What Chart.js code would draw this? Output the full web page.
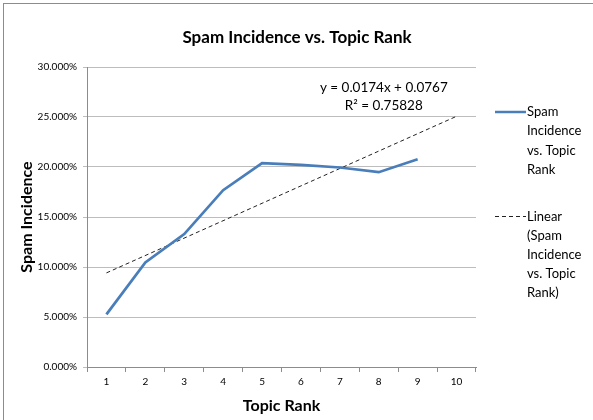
<!DOCTYPE html>
<html>
<head>
<meta charset="utf-8">
<script src="https://cdn.jsdelivr.net/npm/chart.js@4.4.1/dist/chart.umd.min.js"></script>
<style>
  html, body { margin: 0; padding: 0; background: #fff; }
  #wrap { position: relative; width: 593px; height: 420px; overflow: hidden; }
  #frame { position: absolute; left: 3px; top: 3px; width: 620px; height: 440px; border: 1px solid #8c8c8c; }
  canvas { position: absolute; left: 0; top: 0; }
</style>
</head>
<body>
<div id="wrap">
  <div id="frame"></div>
  <canvas id="chart" width="593" height="420"></canvas>
</div>
<script>
const topicRanks = ['1', '2', '3', '4', '5', '6', '7', '8', '9', '10'];
const spamIncidence = [0.0526, 0.1046, 0.1329, 0.1768, 0.2038, 0.2021, 0.1995, 0.1948, 0.2078];
// linear trendline, read at rank 1 and rank 10
const trendLine = [0.0941, null, null, null, null, null, null, null, null, 0.2507];
const yTickValues = [0, 0.05, 0.10, 0.15, 0.20, 0.25, 0.30];
const chartTitle = 'Spam Incidence vs. Topic Rank';
const trendEquation = ['y = 0.0174x + 0.0767', 'R² = 0.75828'];
const legendLines = [
  ['Spam', 'Incidence', 'vs. Topic', 'Rank'],
  ['Linear', '(Spam', 'Incidence', 'vs. Topic', 'Rank)']
];

const FONT = 'Lato, "Open Sans", sans-serif';
const BLUE = '#4a7ebb';

// title over the whole frame, equation label and side legend
const annotations = {
  id: 'annotations',
  afterDraw(chart) {
    const { ctx, chartArea, scales } = chart;
    ctx.save();
    ctx.fillStyle = '#000';
    ctx.textBaseline = 'middle';

    ctx.font = 'bold 17px ' + FONT;
    ctx.textAlign = 'center';
    ctx.fillText(chartTitle, 297, 38);

    // trendline equation
    ctx.font = '13.5px ' + FONT;
    const ex = chartArea.left + chartArea.width * 0.763;
    ctx.fillText(trendEquation[0], ex, scales.y.getPixelForValue(0.2797));
    ctx.fillText(trendEquation[1], ex, scales.y.getPixelForValue(0.2617));

    // legend
    const lx = chartArea.right + 19;
    const tx = lx + 32;
    const starts = [112, 216.5];
    ctx.font = '13px ' + FONT;
    ctx.textAlign = 'left';
    legendLines.forEach((lines, i) => {
      const y0 = starts[i];
      ctx.beginPath();
      if (i === 0) {
        ctx.strokeStyle = BLUE;
        ctx.lineWidth = 2.5;
        ctx.setLineDash([]);
      } else {
        ctx.strokeStyle = '#222';
        ctx.lineWidth = 1;
        ctx.setLineDash([4, 3]);
      }
      ctx.moveTo(lx, y0);
      ctx.lineTo(tx - 1, y0);
      ctx.stroke();
      lines.forEach((t, j) => ctx.fillText(t, tx, y0 + j * 19.2));
    });
    ctx.restore();
  }
};

new Chart(document.getElementById('chart'), {
  type: 'line',
  data: {
    labels: topicRanks,
    datasets: [
      {
        label: 'Spam Incidence vs. Topic Rank',
        data: spamIncidence,
        borderColor: BLUE,
        borderWidth: 2.75,
        pointRadius: 0,
        tension: 0,
        fill: false
      },
      {
        label: 'Linear (Spam Incidence vs. Topic Rank)',
        data: trendLine,
        borderColor: '#222',
        borderWidth: 1,
        borderDash: [4, 3],
        pointRadius: 0,
        spanGaps: true,
        fill: false
      }
    ]
  },
  options: {
    responsive: false,
    animation: false,
    layout: { padding: { left: 0, right: 117, top: 67, bottom: 0 } },
    plugins: {
      legend: { display: false },
      tooltip: { enabled: false },
      title: { display: false }
    },
    scales: {
      x: {
        offset: true,
        grid: { drawOnChartArea: false, drawTicks: true, tickLength: 5, color: '#8c8c8c', offset: true },
        border: { color: '#8c8c8c' },
        ticks: { color: '#000', font: { family: FONT, size: 10 }, padding: 4, maxRotation: 0 },
        title: {
          display: true,
          text: 'Topic Rank',
          color: '#000',
          font: { family: FONT, size: 16, weight: 'bold', lineHeight: 1.2 },
          padding: { top: 5, bottom: 5 }
        },
        afterFit: s => { s.height = 53; }
      },
      y: {
        min: 0,
        max: 0.3,
        afterBuildTicks: s => { s.ticks = yTickValues.map(v => ({ value: v })); },
        grid: { color: '#bdbdbd', tickLength: 4 },
        border: { color: '#8c8c8c' },
        ticks: {
          color: '#000',
          font: { family: FONT, size: 10 },
          padding: 6,
          callback: v => (v * 100).toFixed(3) + '%'
        },
        title: {
          display: true,
          text: 'Spam Incidence',
          color: '#000',
          font: { family: FONT, size: 16, weight: 'bold', lineHeight: 1.2 },
          padding: { top: 17, bottom: 0 }
        },
        afterFit: s => { s.width = 87; }
      }
    }
  },
  plugins: [annotations]
});
</script>
</body>
</html>
